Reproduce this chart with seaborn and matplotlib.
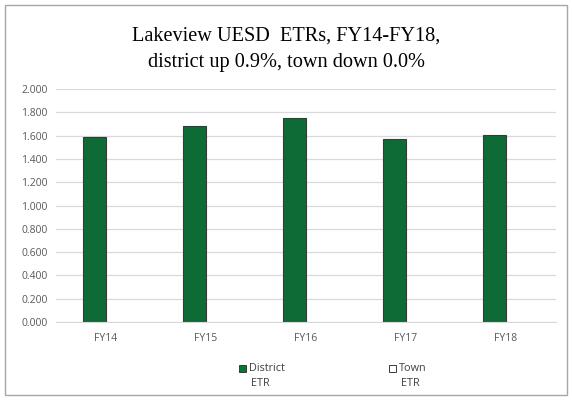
import matplotlib
matplotlib.use("Agg")
import matplotlib.pyplot as plt
import seaborn as sns
import pandas as pd
from matplotlib.patches import Rectangle

years = ["FY14", "FY15", "FY16", "FY17", "FY18"]
district_etr = [1.589, 1.683, 1.754, 1.574, 1.606]
town_etr = [0.0, 0.0, 0.0, 0.0, 0.0]
series = ["District\nETR", "Town\nETR"]
yticks = [0.0, 0.2, 0.4, 0.6, 0.8, 1.0, 1.2, 1.4, 1.6, 1.8, 2.0]

df = pd.DataFrame({
    "year": years * 2,
    "value": district_etr + town_etr,
    "series": [series[0]] * len(years) + [series[1]] * len(years),
})

sns.set_style("white")
plt.rcParams["font.family"] = ["Open Sans", "DejaVu Sans"]

W, H = 572, 400
fig = plt.figure(figsize=(W / 100, H / 100), dpi=100)
ax = fig.add_axes([56 / W, 1 - 322 / H, 500 / W, 233 / H])

green = "#007A33"
colors = [green, "white"]
sns.barplot(data=df, x="year", y="value", hue="series", order=years,
            hue_order=series, palette=colors, width=0.46,
            edgecolor="#3A3A3A", linewidth=0.8, ax=ax, legend=False)
for p in ax.patches:
    if p.get_height() == 0:
        p.set_linewidth(0)

ax.set_ylim(0, 2.0)
ax.set_yticks(yticks)
ax.set_yticklabels([f"{v:.3f}" for v in yticks])
ax.set_xlim(-0.5, len(years) - 0.5)
ax.set_xlabel("")
ax.set_ylabel("")
ax.yaxis.grid(True, color="#D9D9D9", linewidth=0.9)
ax.set_axisbelow(True)
for s in ["top", "right", "left"]:
    ax.spines[s].set_visible(False)
ax.spines["bottom"].set_color("#D9D9D9")
ax.tick_params(axis="both", length=0, labelsize=7.5, colors="#595959")
ax.tick_params(axis="x", pad=8)
ax.tick_params(axis="y", pad=6)

fig.text(0.5, 1 - 49 / H, "Lakeview UESD  ETRs, FY14-FY18,\ndistrict up 0.9%, town down 0.0%",
         ha="center", va="center", fontsize=14.6, family=["Liberation Serif", "DejaVu Serif"],
         linespacing=1.5, color="black")

# legend (manual, to mimic wrapped labels with marker beside first line)
leg_x = [239, 389]
for x0, lab, c in zip(leg_x, series, colors):
    fig.patches.append(Rectangle((x0 / W, 1 - 372 / H), 7 / W, 7 / H, transform=fig.transFigure,
                                 facecolor=c, edgecolor="#3A3A3A", linewidth=0.7))
    first, second = lab.split("\n")
    fig.text((x0 + 10) / W, 1 - 368.5 / H, first, ha="left", va="center",
             fontsize=7.8, color="#404040")
    fig.text((x0 + 12) / W, 1 - 384 / H, second, ha="left", va="center",
             fontsize=7.8, color="#404040")

fig.patches.append(Rectangle((5 / W, 5 / H), 562 / W, 390 / H, transform=fig.transFigure,
                             fill=False, edgecolor="#A6A6A6", linewidth=1.0))

fig.savefig("out.png", dpi=100)
